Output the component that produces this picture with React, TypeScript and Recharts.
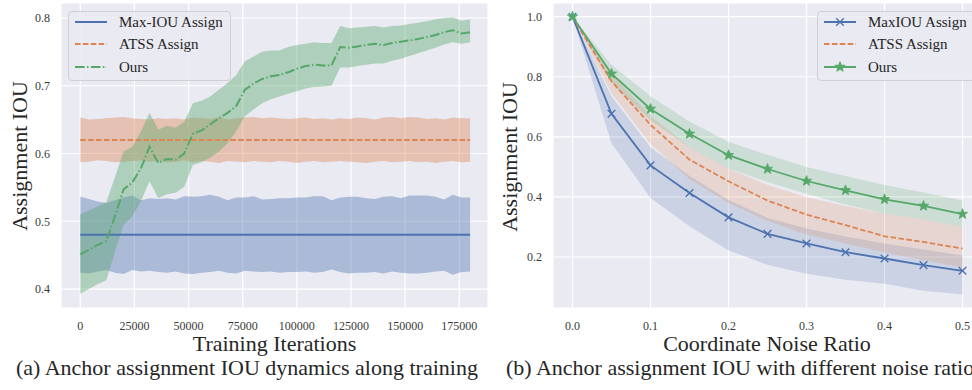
import React from 'react';
import { ComposedChart, Line, Area, XAxis, YAxis, CartesianGrid } from 'recharts';

const FONT = '"Liberation Serif", "Times New Roman", Times, serif';
const BLUE = '#4C72B0';
const ORANGE = '#DD8452';
const GREEN = '#55A868';
const BG = '#EAEAF2';
const TEXT = '#262626';

// ---------- Left chart: IOU dynamics along training ----------
const iters = [
  0, 4000, 8000, 12000, 16000, 20000, 24000, 28000, 32000, 36000, 40000, 44000,
  48000, 52000, 56000, 60000, 64000, 68000, 72000, 76000, 80000, 84000, 88000,
  92000, 96000, 100000, 104000, 108000, 112000, 116000, 120000, 124000, 128000,
  132000, 136000, 140000, 144000, 148000, 152000, 156000, 160000, 164000, 168000,
  172000, 176000, 180000,
];
const maxIouMean = [
  0.48, 0.48, 0.48, 0.48, 0.48, 0.48, 0.48, 0.48, 0.48, 0.48, 0.48, 0.48, 0.48,
  0.48, 0.48, 0.48, 0.48, 0.48, 0.48, 0.48, 0.48, 0.48, 0.48, 0.48, 0.48, 0.48,
  0.48, 0.48, 0.48, 0.48, 0.48, 0.48, 0.48, 0.48, 0.48, 0.48, 0.48, 0.48, 0.48,
  0.48, 0.48, 0.48, 0.48, 0.48, 0.48, 0.48,
];
const maxIouHi = [
  0.536, 0.533, 0.529, 0.527, 0.531, 0.535, 0.538, 0.531, 0.534, 0.533, 0.534,
  0.532, 0.537, 0.536, 0.537, 0.539, 0.536, 0.531, 0.535, 0.535, 0.537, 0.532,
  0.533, 0.534, 0.534, 0.535, 0.535, 0.537, 0.537, 0.531, 0.535, 0.536, 0.536,
  0.534, 0.533, 0.536, 0.537, 0.534, 0.538, 0.538, 0.538, 0.536, 0.532, 0.539,
  0.535, 0.535,
];
const maxIouLo = [
  0.424, 0.423, 0.426, 0.428, 0.424, 0.422, 0.428, 0.426, 0.427, 0.425, 0.424,
  0.426, 0.423, 0.422, 0.424, 0.425, 0.427, 0.424, 0.423, 0.427, 0.426, 0.425,
  0.426, 0.424, 0.425, 0.425, 0.426, 0.424, 0.425, 0.429, 0.425, 0.423, 0.424,
  0.424, 0.425, 0.423, 0.426, 0.424, 0.423, 0.423, 0.424, 0.426, 0.427, 0.421,
  0.425, 0.426,
];
const atssMean = [
  0.62, 0.62, 0.62, 0.62, 0.62, 0.62, 0.62, 0.62, 0.62, 0.62, 0.62, 0.62, 0.62,
  0.62, 0.62, 0.62, 0.62, 0.62, 0.62, 0.62, 0.62, 0.62, 0.62, 0.62, 0.62, 0.62,
  0.62, 0.62, 0.62, 0.62, 0.62, 0.62, 0.62, 0.62, 0.62, 0.62, 0.62, 0.62, 0.62,
  0.62, 0.62, 0.62, 0.62, 0.62, 0.62, 0.62,
];
const atssHi = [
  0.653, 0.65, 0.651, 0.652, 0.653, 0.654, 0.652, 0.651, 0.65, 0.652, 0.651,
  0.652, 0.65, 0.653, 0.652, 0.651, 0.653, 0.65, 0.652, 0.653, 0.654, 0.652,
  0.653, 0.652, 0.651, 0.652, 0.653, 0.651, 0.652, 0.65, 0.652, 0.651, 0.653,
  0.652, 0.65, 0.653, 0.654, 0.652, 0.654, 0.653, 0.651, 0.652, 0.65, 0.653,
  0.652, 0.652,
];
const atssLo = [
  0.587, 0.588, 0.59, 0.589, 0.587, 0.588, 0.589, 0.59, 0.588, 0.589, 0.587,
  0.588, 0.59, 0.587, 0.589, 0.588, 0.586, 0.589, 0.588, 0.587, 0.589, 0.588,
  0.587, 0.589, 0.588, 0.586, 0.588, 0.589, 0.587, 0.588, 0.589, 0.588, 0.587,
  0.586, 0.588, 0.589, 0.587, 0.588, 0.589, 0.587, 0.588, 0.586, 0.588, 0.589,
  0.587, 0.588,
];
const oursMean = [
  0.451, 0.458, 0.465, 0.471, 0.507, 0.547, 0.557, 0.578, 0.61, 0.586, 0.592,
  0.591, 0.6, 0.629, 0.634, 0.643, 0.652, 0.66, 0.67, 0.694, 0.703, 0.71, 0.714,
  0.716, 0.72, 0.725, 0.729, 0.731, 0.73, 0.73, 0.757, 0.756, 0.758, 0.76,
  0.762, 0.76, 0.763, 0.765, 0.767, 0.769, 0.772, 0.775, 0.779, 0.782, 0.777,
  0.779,
];
const oursHi = [
  0.51, 0.516, 0.522, 0.528, 0.565, 0.603, 0.61, 0.632, 0.66, 0.635, 0.641,
  0.638, 0.647, 0.674, 0.678, 0.684, 0.694, 0.704, 0.716, 0.736, 0.743, 0.75,
  0.752, 0.752, 0.757, 0.76, 0.762, 0.764, 0.763, 0.763, 0.788, 0.785, 0.786,
  0.787, 0.788, 0.786, 0.788, 0.789, 0.791, 0.793, 0.795, 0.798, 0.8, 0.801,
  0.796, 0.798,
];
const oursLo = [
  0.393, 0.4, 0.407, 0.413, 0.455, 0.495, 0.507, 0.53, 0.559, 0.534, 0.54,
  0.542, 0.551, 0.583, 0.587, 0.594, 0.603, 0.615, 0.633, 0.655, 0.665, 0.674,
  0.68, 0.684, 0.688, 0.692, 0.696, 0.698, 0.699, 0.7, 0.727, 0.727, 0.729,
  0.731, 0.733, 0.733, 0.737, 0.74, 0.744, 0.748, 0.752, 0.756, 0.761, 0.764,
  0.762, 0.764,
];
const leftXTicks = [0, 25000, 50000, 75000, 100000, 125000, 150000, 175000];
const leftYTicks = [0.4, 0.5, 0.6, 0.7, 0.8];

// ---------- Right chart: IOU vs noise ratio ----------
const noise = [0, 0.05, 0.1, 0.15, 0.2, 0.25, 0.3, 0.35, 0.4, 0.45, 0.5];
const nMaxMean = [1.0, 0.677, 0.505, 0.413, 0.332, 0.277, 0.245, 0.216, 0.195, 0.173, 0.154];
const nMaxHi = [1.0, 0.735, 0.565, 0.47, 0.39, 0.33, 0.295, 0.268, 0.245, 0.225, 0.205];
const nMaxLo = [1.0, 0.579, 0.396, 0.302, 0.222, 0.174, 0.144, 0.124, 0.111, 0.088, 0.075];
const nAtssMean = [1.0, 0.785, 0.64, 0.524, 0.452, 0.388, 0.341, 0.306, 0.269, 0.25, 0.228];
const nAtssHi = [1.0, 0.81, 0.67, 0.565, 0.495, 0.44, 0.4, 0.37, 0.345, 0.325, 0.3];
const nAtssLo = [1.0, 0.745, 0.575, 0.46, 0.38, 0.32, 0.275, 0.245, 0.215, 0.19, 0.165];
const nOursMean = [1.0, 0.81, 0.693, 0.61, 0.539, 0.493, 0.453, 0.422, 0.392, 0.37, 0.343];
const nOursHi = [1.0, 0.84, 0.735, 0.651, 0.584, 0.54, 0.5, 0.47, 0.44, 0.415, 0.388];
const nOursLo = [1.0, 0.78, 0.655, 0.565, 0.495, 0.45, 0.41, 0.375, 0.345, 0.325, 0.3];
const rightXTicks = [0, 0.1, 0.2, 0.3, 0.4, 0.5];
const rightYTicks = [0.2, 0.4, 0.6, 0.8, 1.0];

const leftData = iters.map((x, i) => ({
  x,
  maxMean: maxIouMean[i],
  maxBand: [maxIouLo[i], maxIouHi[i]],
  atssMean: atssMean[i],
  atssBand: [atssLo[i], atssHi[i]],
  oursMean: oursMean[i],
  oursBand: [oursLo[i], oursHi[i]],
}));

const rightData = noise.map((x, i) => ({
  x,
  maxMean: nMaxMean[i],
  maxBand: [nMaxLo[i], nMaxHi[i]],
  atssMean: nAtssMean[i],
  atssBand: [nAtssLo[i], nAtssHi[i]],
  oursMean: nOursMean[i],
  oursBand: [nOursLo[i], nOursHi[i]],
}));

const tickStyle = { fontSize: 12, fill: '#3a3a3a', fontFamily: 'Liberation Serif' };

const starPath = (cx: number, cy: number, R: number, r: number) => {
  let d = '';
  for (let k = 0; k < 10; k++) {
    const rad = k % 2 === 0 ? R : r;
    const a = -Math.PI / 2 + (k * Math.PI) / 5;
    d += (k === 0 ? 'M' : 'L') + (cx + rad * Math.cos(a)).toFixed(2) + ',' + (cy + rad * Math.sin(a)).toFixed(2);
  }
  return d + 'Z';
};

const XDot = (props: any) => {
  const { cx, cy, index } = props;
  if (cx == null || cy == null) return <g key={`x-${index}`} />;
  const s = 3.8;
  return (
    <path
      key={`x-${index}`}
      d={`M${cx - s},${cy - s}L${cx + s},${cy + s}M${cx - s},${cy + s}L${cx + s},${cy - s}`}
      stroke={BLUE}
      strokeWidth={1.4}
      fill="none"
    />
  );
};

const StarDot = (props: any) => {
  const { cx, cy, index } = props;
  if (cx == null || cy == null) return <g key={`s-${index}`} />;
  return <path key={`s-${index}`} d={starPath(cx, cy, 5.4, 2.3)} fill={GREEN} stroke={GREEN} strokeWidth={0.8} />;
};

const LegendBox = ({ left, top, width, items }: any) => (
  <div
    style={{
      position: 'absolute',
      left,
      top,
      width,
      height: 70,
      boxSizing: 'border-box',
      border: '1px solid #cfcfd6',
      borderRadius: 4,
      background: 'rgba(234,234,242,0.85)',
      fontFamily: FONT,
      fontSize: 15,
      color: TEXT,
    }}
  >
    {items.map((it: any, i: number) => (
      <div key={i} style={{ position: 'absolute', left: 0, top: i * 22.3 - 1, height: 22, width: '100%' }}>
        <svg width={40} height={22} style={{ position: 'absolute', left: 0, top: 0 }}>
          <line x1={6} x2={38} y1={11} y2={11} stroke={it.color} strokeWidth={2} strokeDasharray={it.dash} />
          {it.marker === 'x' && (
            <path d="M18.2,7.2L25.8,14.8M18.2,14.8L25.8,7.2" stroke={it.color} strokeWidth={1.4} />
          )}
          {it.marker === 'star' && <path d={starPath(22, 11, 5.4, 2.3)} fill={it.color} stroke={it.color} strokeWidth={0.8} />}
        </svg>
        <span style={{ position: 'absolute', left: 50, top: 0, lineHeight: '22px', whiteSpace: 'nowrap' }}>{it.label}</span>
      </div>
    ))}
  </div>
);

const titleStyle: React.CSSProperties = {
  position: 'absolute',
  fontFamily: FONT,
  fontSize: 22,
  color: TEXT,
  whiteSpace: 'nowrap',
  lineHeight: '20px',
};

export default function App() {
  return (
    <div
      style={{
        position: 'fixed',
        left: 0,
        top: 0,
        width: 972,
        height: 390,
        overflow: 'hidden',
        background: '#ffffff',
        fontFamily: FONT,
      }}
    >
      {/* Left chart */}
      <div style={{ position: 'absolute', left: 0, top: 0 }}>
        <ComposedChart width={490} height={340} data={leftData} margin={{ top: 3, right: 2, left: 0, bottom: 0 }}>
          <CartesianGrid stroke="#ffffff" strokeWidth={1.2} fill={BG} fillOpacity={1} />
          <XAxis
            dataKey="x"
            type="number"
            domain={[-8900, 188260]}
            ticks={leftXTicks}
            interval={0}
            allowDataOverflow
            axisLine={false}
            tickLine={false}
            height={32}
            tickMargin={7}
            tick={tickStyle}
          />
          <YAxis
            type="number"
            domain={[0.372, 0.8221]}
            ticks={leftYTicks}
            interval={0}
            allowDataOverflow
            axisLine={false}
            tickLine={false}
            width={61}
            tickMargin={5}
            tick={tickStyle}
            tickFormatter={(v: number) => v.toFixed(1)}
          />
          <Area type="linear" dataKey="maxBand" stroke="none" fill={BLUE} fillOpacity={0.4} isAnimationActive={false} activeDot={false} />
          <Area type="linear" dataKey="atssBand" stroke="none" fill={ORANGE} fillOpacity={0.4} isAnimationActive={false} activeDot={false} />
          <Area type="linear" dataKey="oursBand" stroke="none" fill={GREEN} fillOpacity={0.4} isAnimationActive={false} activeDot={false} />
          <Line type="linear" dataKey="maxMean" stroke={BLUE} strokeWidth={2} dot={false} isAnimationActive={false} activeDot={false} />
          <Line type="linear" dataKey="atssMean" stroke={ORANGE} strokeWidth={2} strokeDasharray="5.5 2.4" dot={false} isAnimationActive={false} activeDot={false} />
          <Line type="linear" dataKey="oursMean" stroke={GREEN} strokeWidth={2} strokeDasharray="9.6 2.4 1.5 2.4" dot={false} isAnimationActive={false} activeDot={false} />
        </ComposedChart>
      </div>

      {/* Right chart */}
      <div style={{ position: 'absolute', left: 490, top: 0 }}>
        <ComposedChart width={492} height={340} data={rightData} margin={{ top: 3, right: 0, left: 0, bottom: 0 }}>
          <CartesianGrid stroke="#ffffff" strokeWidth={1.2} fill={BG} fillOpacity={1} />
          <XAxis
            dataKey="x"
            type="number"
            domain={[-0.025, 0.525]}
            ticks={rightXTicks}
            interval={0}
            allowDataOverflow
            axisLine={false}
            tickLine={false}
            height={32}
            tickMargin={7}
            tick={tickStyle}
            tickFormatter={(v: number) => v.toFixed(1)}
          />
          <YAxis
            type="number"
            domain={[0.0302, 1.0456]}
            ticks={rightYTicks}
            interval={0}
            allowDataOverflow
            axisLine={false}
            tickLine={false}
            width={63}
            tickMargin={5}
            tick={tickStyle}
            tickFormatter={(v: number) => v.toFixed(1)}
          />
          <Area type="linear" dataKey="maxBand" stroke="none" fill={BLUE} fillOpacity={0.2} isAnimationActive={false} activeDot={false} />
          <Area type="linear" dataKey="atssBand" stroke="none" fill={ORANGE} fillOpacity={0.2} isAnimationActive={false} activeDot={false} />
          <Area type="linear" dataKey="oursBand" stroke="none" fill={GREEN} fillOpacity={0.2} isAnimationActive={false} activeDot={false} />
          <Line type="linear" dataKey="maxMean" stroke={BLUE} strokeWidth={1.8} dot={XDot} isAnimationActive={false} activeDot={false} />
          <Line type="linear" dataKey="atssMean" stroke={ORANGE} strokeWidth={1.8} strokeDasharray="5.5 2.4" dot={false} isAnimationActive={false} activeDot={false} />
          <Line type="linear" dataKey="oursMean" stroke={GREEN} strokeWidth={1.8} dot={StarDot} isAnimationActive={false} activeDot={false} />
        </ComposedChart>
      </div>

      {/* Legends */}
      <LegendBox
        left={68}
        top={11}
        width={163}
        items={[
          { label: 'Max-IOU Assign', color: BLUE },
          { label: 'ATSS Assign', color: ORANGE, dash: '5.5 2.4' },
          { label: 'Ours', color: GREEN, dash: '9.6 2.4 1.5 2.4' },
        ]}
      />
      <LegendBox
        left={817}
        top={11}
        width={180}
        items={[
          { label: 'MaxIOU Assign', color: BLUE, marker: 'x' },
          { label: 'ATSS Assign', color: ORANGE, dash: '5.5 2.4' },
          { label: 'Ours', color: GREEN, marker: 'star' },
        ]}
      />

      {/* Axis titles */}
      <div style={{ ...titleStyle, left: 20, top: 156, transform: 'translate(-50%, -50%) rotate(-90deg)' }}>Assignment IOU</div>
      <div style={{ ...titleStyle, left: 510, top: 157, transform: 'translate(-50%, -50%) rotate(-90deg)' }}>Assignment IOU</div>
      <div style={{ ...titleStyle, left: 274.5, top: 344, transform: 'translate(-50%, -50%)' }}>Training Iterations</div>
      <div style={{ ...titleStyle, left: 767, top: 344, transform: 'translate(-50%, -50%)' }}>Coordinate Noise Ratio</div>

      {/* Captions */}
      <div style={{ ...titleStyle, left: 16, top: 368, transform: 'translate(0, -50%)' }}>
        (a) Anchor assignment IOU dynamics along training
      </div>
      <div style={{ ...titleStyle, left: 506, top: 368, transform: 'translate(0, -50%)' }}>
        (b) Anchor assignment IOU with different noise ratio
      </div>
    </div>
  );
}
